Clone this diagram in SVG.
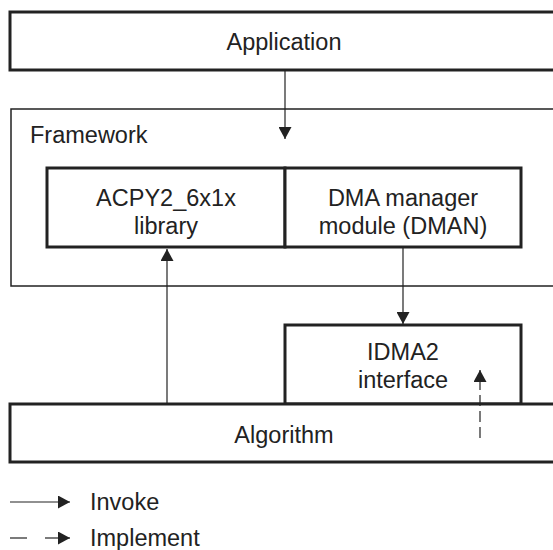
<svg xmlns="http://www.w3.org/2000/svg" width="553" height="550" viewBox="0 0 553 550">
  <style>
    .box { fill: #ffffff; stroke: #222222; stroke-width: 3; }
    .frame { fill: #ffffff; stroke: #222222; stroke-width: 1.5; }
    .lbl { font-family: "Liberation Sans", Arial, Helvetica, sans-serif; font-size: 23.5px; fill: #222222; }
    .mid { text-anchor: middle; }
    .wire { stroke: #222222; stroke-width: 1.2; fill: none; }
    .dash { stroke-dasharray: 11 5; }
  </style>
  <defs>
    <marker id="head" viewBox="0 0 12 13" refX="12" refY="6.5" markerWidth="12" markerHeight="13" markerUnits="userSpaceOnUse" orient="auto">
      <path d="M0,0 L12,6.5 L0,13 Z" fill="#222222"/>
    </marker>
  </defs>

  <rect width="553" height="550" fill="#ffffff"/>

  <g id="application">
    <rect class="box" x="10" y="12" width="560" height="58"/>
    <text class="lbl mid" x="284" y="50">Application</text>
  </g>

  <g id="framework">
    <rect class="frame" x="11" y="109" width="560" height="177"/>
    <text class="lbl" x="30" y="143">Framework</text>
  </g>

  <g id="acpy2">
    <rect class="box" x="47" y="168" width="238" height="79"/>
    <text class="lbl mid" x="166" y="206">ACPY2_6x1x</text>
    <text class="lbl mid" x="166" y="234">library</text>
  </g>

  <g id="dman">
    <rect class="box" x="285" y="168" width="236" height="79"/>
    <text class="lbl mid" x="403" y="206">DMA manager</text>
    <text class="lbl mid" x="403" y="234">module (DMAN)</text>
  </g>

  <g id="idma2">
    <rect class="box" x="285" y="325" width="236" height="79"/>
    <text class="lbl mid" x="403" y="360">IDMA2</text>
    <text class="lbl mid" x="403" y="388">interface</text>
  </g>

  <g id="algorithm">
    <rect class="box" x="10" y="404" width="560" height="58"/>
    <text class="lbl mid" x="284" y="443">Algorithm</text>
  </g>

  <g id="connectors">
    <line class="wire" x1="285" y1="71" x2="285" y2="139" marker-end="url(#head)"/>
    <line class="wire" x1="167" y1="403" x2="167" y2="249" marker-end="url(#head)"/>
    <line class="wire" x1="403" y1="248" x2="403" y2="324" marker-end="url(#head)"/>
    <line class="wire dash" x1="480" y1="438" x2="480" y2="370" marker-end="url(#head)"/>
  </g>

  <g id="legend">
    <line class="wire" x1="10" y1="502" x2="70" y2="502" marker-end="url(#head)"/>
    <text class="lbl" x="90" y="510">Invoke</text>
    <line class="wire" x1="10" y1="538" x2="27" y2="538"/>
    <line class="wire" x1="45" y1="538" x2="70" y2="538" marker-end="url(#head)"/>
    <text class="lbl" x="90" y="546">Implement</text>
  </g>
</svg>
